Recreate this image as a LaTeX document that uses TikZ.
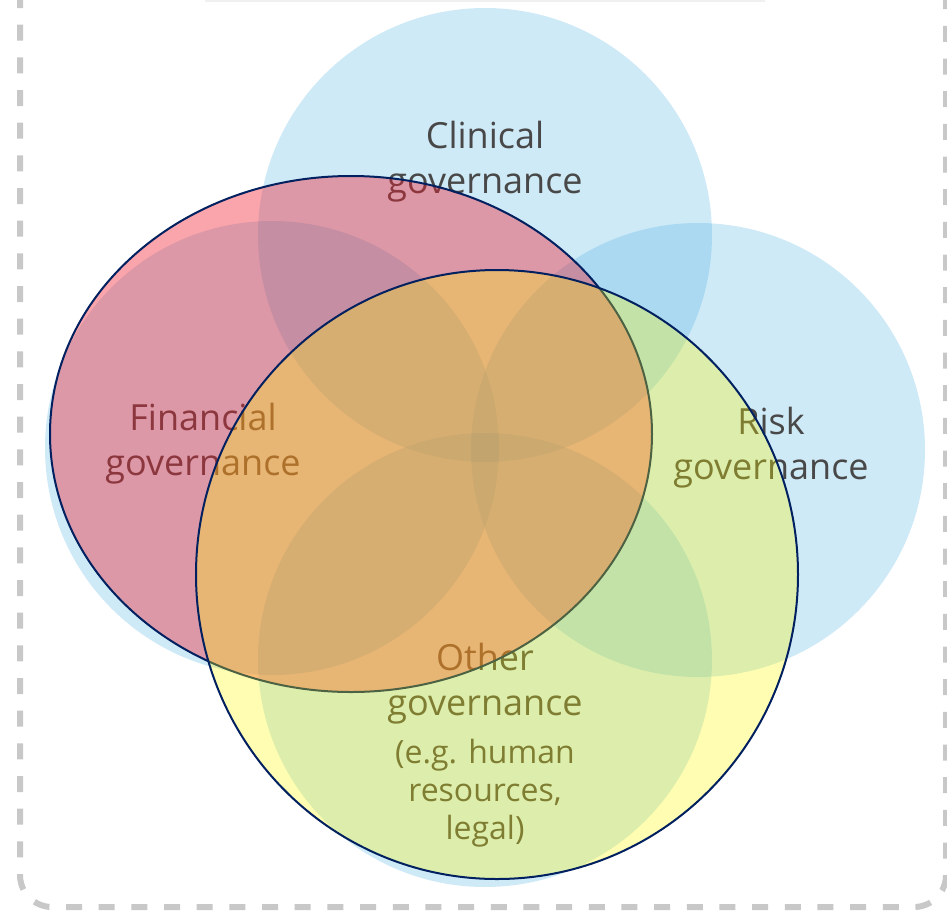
\documentclass[tikz,border=0pt]{standalone}
\usepackage{fontspec}
\setmainfont{Open Sans}
\usetikzlibrary{shapes.geometric}
\definecolor{venblue}{RGB}{40,160,220}
\definecolor{venred}{RGB}{242,30,47}
\definecolor{venyellow}{RGB}{255,250,0}
\definecolor{navyline}{RGB}{0,32,96}
\definecolor{dashgray}{RGB}{200,200,200}
\definecolor{txtgray}{RGB}{72,72,72}
\tikzset{
  bluecirc/.style={circle, fill=venblue, fill opacity=0.22, draw=none, minimum size=340.5pt, inner sep=0pt},
  lbl/.style={text=txtgray, align=center, inner sep=0pt, font=\fontsize{27}{33.75}\selectfont},
  sublbl/.style={text=txtgray, align=center, inner sep=0pt, font=\fontsize{24}{28.5}\selectfont},
  redell/.style={ellipse, fill=venred, fill opacity=0.4, draw=navyline, line width=1.5pt, draw opacity=1, inner sep=0pt, minimum width=451.5pt, minimum height=387pt},
  yelell/.style={ellipse, fill=venyellow, fill opacity=0.3, draw=navyline, line width=1.5pt, draw opacity=1, inner sep=0pt, minimum width=451.5pt, minimum height=456.75pt},
  frame/.style={draw=dashgray, line width=4.5pt, dash pattern=on 12pt off 12.5pt, rounded corners=24pt}
}
\begin{document}
\begin{tikzpicture}[x=0.75pt, y=-0.75pt]
\useasboundingbox (0,0) rectangle (947,915);
\clip (0,0) rectangle (947,915);
\fill[white] (0,0) rectangle (947,915);
% frame
\draw[frame] (20,-40) rectangle (946,907);
\draw[gray!12, line width=1.5pt] (205,1) -- (765,1);
% blue circles
\node[bluecirc] (clin) at (485,235) {};
\node[bluecirc] (fin) at (272,448) {};
\node[bluecirc] (risk) at (698,450) {};
\node[bluecirc] (oth) at (485,660) {};
% labels
\node[lbl] (tclin) at (485,162) {Clinical\\governance};
\node[lbl] (tfin) at (203,444) {Financial\\governance};
\node[lbl] (trisk) at (771,448) {Risk\\governance};
\node[lbl] (toth) at (485,684) {Other\\governance};
\node[sublbl] (toth2) at (485,793) {(e.g. human\\resources,\\legal)};
% overlay ellipses
\node[redell] (redE) at (351,434) {};
\node[yelell] (yelE) at (497,574.5) {};
\end{tikzpicture}
\end{document}
